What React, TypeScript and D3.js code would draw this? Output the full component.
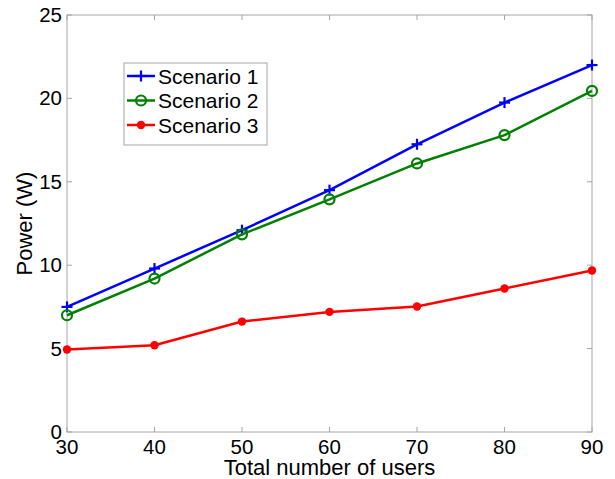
import React from 'react';
import * as d3 from 'd3';

const users = [30, 40, 50, 60, 70, 80, 90];
const scenario1 = [7.5, 9.8, 12.1, 14.5, 17.25, 19.75, 22.0];
const scenario2 = [7.0, 9.2, 11.85, 13.95, 16.1, 17.8, 20.45];
const scenario3 = [4.95, 5.2, 6.62, 7.2, 7.52, 8.6, 9.68];
const xTicks = [30, 40, 50, 60, 70, 80, 90];
const yTicks = [0, 5, 10, 15, 20, 25];

const series = [
    { name: 'Scenario 1', values: scenario1, color: '#0000ff', marker: 'plus' },
    { name: 'Scenario 2', values: scenario2, color: '#008000', marker: 'circle' },
    { name: 'Scenario 3', values: scenario3, color: '#ff0000', marker: 'dot' },
];

const width = 615;
const height = 479;
const margin = { top: 15, right: 23, bottom: 47, left: 67 };
const font = 'Liberation Sans, Arial, Helvetica, sans-serif';
const axisColor = '#a6a6a6';

function Marker({ type, x, y, color }: { type: string; x: number; y: number; color: string }) {
    if (type === 'plus') {
        return (
            <g stroke={color} strokeWidth={2.2}>
                <line x1={x - 5.5} x2={x + 5.5} y1={y} y2={y} />
                <line x1={x} x2={x} y1={y - 5.5} y2={y + 5.5} />
            </g>
        );
    }
    if (type === 'circle') {
        return <circle cx={x} cy={y} r={5} fill="none" stroke={color} strokeWidth={2.2} />;
    }
    return <circle cx={x} cy={y} r={4.2} fill={color} />;
}

export default function App() {
    const x = d3.scaleLinear().domain([30, 90]).range([margin.left, width - margin.right]);
    const y = d3.scaleLinear().domain([0, 25]).range([height - margin.bottom, margin.top]);
    const line = d3
        .line<number>()
        .x((_, i) => x(users[i]))
        .y((d) => y(d));

    const x0 = x(30);
    const x1 = x(90);
    const y0 = y(0);
    const y1 = y(25);
    const tick = 5;

    // legend layout
    const lg = { x: 124, y: 63, w: 143, h: 82 };
    const rowY = (i: number) => lg.y + 13 + i * 24.5;

    return (
        <svg width={width} height={height} style={{ position: 'absolute', left: 0, top: 0 }}>
            <rect width={width} height={height} fill="#ffffff" />
            {/* box */}
            <rect x={x0} y={y1} width={x1 - x0} height={y0 - y1} fill="none" stroke={axisColor} strokeWidth={1} />
            {xTicks.map((t) => (
                <g key={`xt${t}`} stroke={axisColor}>
                    <line x1={x(t)} x2={x(t)} y1={y0} y2={y0 - tick} />
                    <line x1={x(t)} x2={x(t)} y1={y1} y2={y1 + tick} />
                </g>
            ))}
            {yTicks.map((t) => (
                <g key={`yt${t}`} stroke={axisColor}>
                    <line x1={x0} x2={x0 + tick} y1={y(t)} y2={y(t)} />
                    <line x1={x1} x2={x1 - tick} y1={y(t)} y2={y(t)} />
                </g>
            ))}
            {xTicks.map((t) => (
                <text key={`xl${t}`} x={x(t)} y={y0 + 22} textAnchor="middle" fontFamily={font} fontSize={20.5} fill="#000">
                    {t}
                </text>
            ))}
            {yTicks.map((t) => (
                <text key={`yl${t}`} x={x0 - 5} y={y(t) + 7} textAnchor="end" fontFamily={font} fontSize={20.5} fill="#000">
                    {t}
                </text>
            ))}
            <text x={(x0 + x1) / 2} y={y0 + 43} textAnchor="middle" fontFamily={font} fontSize={22} fill="#000">
                Total number of users
            </text>
            <text
                transform={`translate(32, ${(y0 + y1) / 2}) rotate(-90)`}
                textAnchor="middle"
                fontFamily={font}
                fontSize={22}
                fill="#000"
            >
                Power (W)
            </text>

            {series.map((s) => (
                <g key={s.name}>
                    <path d={line(s.values) ?? ''} fill="none" stroke={s.color} strokeWidth={2.5} strokeLinejoin="round" />
                    {s.values.map((v, i) => (
                        <Marker key={i} type={s.marker} x={x(users[i])} y={y(v)} color={s.color} />
                    ))}
                </g>
            ))}

            {/* legend */}
            <rect x={lg.x} y={lg.y} width={lg.w} height={lg.h} fill="#ffffff" stroke={axisColor} strokeWidth={1} />
            {series.map((s, i) => (
                <g key={`lg${s.name}`}>
                    <line x1={lg.x + 3} x2={lg.x + 31} y1={rowY(i)} y2={rowY(i)} stroke={s.color} strokeWidth={2.5} />
                    <Marker type={s.marker} x={lg.x + 17} y={rowY(i)} color={s.color} />
                    <text x={lg.x + 34} y={rowY(i) + 7.5} fontFamily={font} fontSize={21} fill="#000">
                        {s.name}
                    </text>
                </g>
            ))}
        </svg>
    );
}
